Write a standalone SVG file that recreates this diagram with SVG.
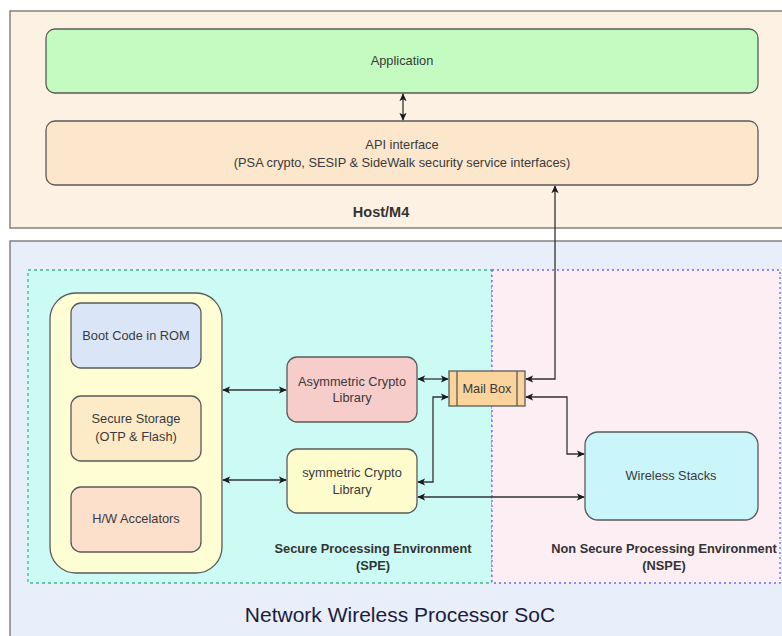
<svg xmlns="http://www.w3.org/2000/svg" width="782" height="636" viewBox="0 0 782 636">
<defs>
<marker id="ah" viewBox="0 0 10 10" refX="9" refY="5" markerWidth="8" markerHeight="8" markerUnits="userSpaceOnUse" orient="auto-start-reverse">
<path d="M0,0.5 L10,5 L0,9.5 L2.5,5 Z" fill="#1a1a1a"/>
</marker>
<style>
.box{stroke:#5a5a5a;stroke-width:1.3}
.t{font-family:"Liberation Sans",Arial,sans-serif;font-size:12.8px;fill:#3a3a3a;text-anchor:middle}
.b{font-family:"Liberation Sans",Arial,sans-serif;font-size:12.8px;font-weight:bold;fill:#333;text-anchor:middle}
.c{fill:none;stroke:#333;stroke-width:1.3;marker-start:url(#ah);marker-end:url(#ah)}
</style>
</defs>
<rect width="782" height="636" fill="#ffffff"/>
<g id="host">
<rect x="10" y="11" width="780" height="217" fill="#fdf1e4" stroke="#707070" stroke-width="1.3"/>
<text class="b" x="381" y="217" style="font-size:14.5px">Host/M4</text>
</g>
<g id="application">
<rect class="box" x="46" y="29" width="712" height="64" rx="9" fill="#c4fbc0"/>
<text class="t" x="402" y="65">Application</text>
</g>
<g id="api">
<rect class="box" x="46" y="121" width="712" height="64" rx="9" fill="#fce6cc"/>
<text class="t" x="402" y="149">API interface</text>
<text class="t" x="402" y="167">(PSA crypto, SESIP &amp; SideWalk security service interfaces)</text>
</g>
<g id="soc">
<rect x="10" y="241" width="780" height="400" fill="#e8eefa" stroke="#707070" stroke-width="1.3"/>
<text x="400" y="622" style="font-family:'Liberation Sans',Arial,sans-serif;font-size:21px;fill:#1c1c3c;text-anchor:middle">Network Wireless Processor SoC</text>
</g>
<g id="spe">
<rect x="28" y="270" width="464" height="313" fill="#ccfbf6" stroke="#4fb38a" stroke-width="1.3" stroke-dasharray="3,3"/>
<text class="b" x="373" y="553">Secure Processing Environment</text>
<text class="b" x="373" y="570">(SPE)</text>
</g>
<g id="nspe">
<rect x="492" y="270" width="288" height="313" fill="#fdeef4" stroke="#6a6af0" stroke-width="1.3" stroke-dasharray="2,3"/>
<text class="b" x="664" y="553">Non Secure Processing Environment</text>
<text class="b" x="664" y="570">(NSPE)</text>
</g>
<g id="container">
<rect class="box" x="50" y="293" width="172" height="280" rx="26" fill="#fefdd4"/>
</g>
<g id="boot">
<rect class="box" x="71" y="303" width="130" height="65" rx="10" fill="#dae6f8"/>
<text class="t" x="136" y="340">Boot Code in ROM</text>
</g>
<g id="storage">
<rect class="box" x="71" y="396" width="130" height="65" rx="10" fill="#fdebc8"/>
<text class="t" x="136" y="423">Secure Storage</text>
<text class="t" x="136" y="441">(OTP &amp; Flash)</text>
</g>
<g id="hw">
<rect class="box" x="71" y="487" width="130" height="65" rx="10" fill="#fce0cc"/>
<text class="t" x="136" y="523">H/W Accelators</text>
</g>
<g id="asym">
<rect class="box" x="287" y="357" width="130" height="65" rx="10" fill="#f7cdcb"/>
<text class="t" x="352" y="386">Asymmetric Crypto</text>
<text class="t" x="352" y="402">Library</text>
</g>
<g id="sym">
<rect class="box" x="287" y="449" width="130" height="64" rx="10" fill="#fefccd"/>
<text class="t" x="352" y="477">symmetric Crypto</text>
<text class="t" x="352" y="494">Library</text>
</g>
<g id="mailbox">
<rect class="box" x="449" y="371" width="76" height="35" fill="#fbd49c"/>
<line x1="457" y1="371" x2="457" y2="406" stroke="#5a5a5a" stroke-width="1.3"/>
<line x1="517" y1="371" x2="517" y2="406" stroke="#5a5a5a" stroke-width="1.3"/>
<text class="t" x="487" y="393">Mail Box</text>
</g>
<g id="wireless">
<rect class="box" x="585" y="432" width="173" height="88" rx="13" fill="#c9f5fb"/>
<text class="t" x="671" y="480">Wireless Stacks</text>
</g>
<g id="connectors">
<path class="c" d="M403,94 L403,120"/>
<path class="c" d="M526,379 L555,379 L555,186"/>
<path class="c" d="M223,390 L286,390"/>
<path class="c" d="M223,480 L286,480"/>
<path class="c" d="M418,379 L448,379"/>
<path class="c" d="M418,482 L433,482 L433,397 L448,397"/>
<path class="c" d="M526,397 L567,397 L567,454 L584,454"/>
<path class="c" d="M418,497 L584,497"/>
</g>
</svg>
